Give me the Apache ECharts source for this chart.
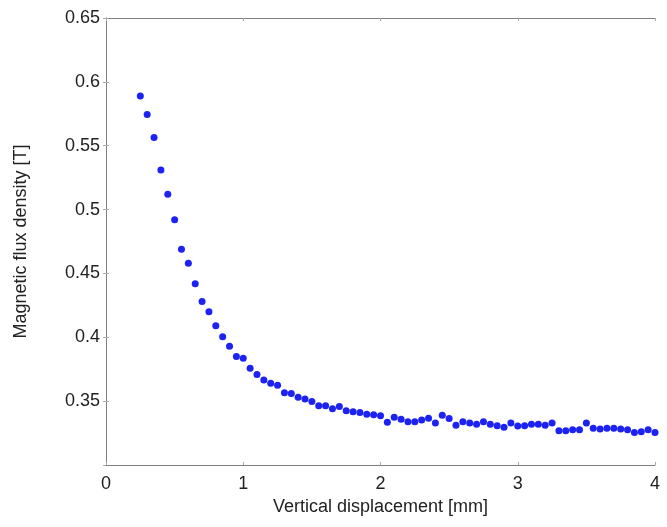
<!DOCTYPE html>
<html>
<head>
<meta charset="utf-8">
<script src="https://cdn.jsdelivr.net/npm/echarts@6/dist/echarts.min.js"></script>
<style>html,body{margin:0;padding:0;background:#fff}#c{width:667px;height:527px}</style>
</head>
<body>
<div id="c"></div>
<script>
var xStart = 0.25;
var xStep = 0.05;
var fluxDensity = [
  0.589, 0.5745, 0.5565, 0.531, 0.512, 0.492, 0.469, 0.458, 0.442, 0.428,
  0.420, 0.409, 0.4005, 0.393, 0.385, 0.3836, 0.3758, 0.3709, 0.3666, 0.364,
  0.3625, 0.3565, 0.356, 0.3531, 0.3516, 0.3498, 0.3463, 0.3463, 0.344, 0.3459,
  0.3424, 0.3416, 0.3412, 0.3398, 0.3393, 0.3385, 0.3334, 0.3373, 0.3359, 0.3338,
  0.3338, 0.3352, 0.3367, 0.3328, 0.339, 0.3365, 0.3312, 0.3338, 0.3328, 0.332,
  0.3338, 0.332, 0.3307, 0.3295, 0.3328, 0.3305, 0.3307, 0.332, 0.332, 0.3312,
  0.3328, 0.3268, 0.3268, 0.3276, 0.3276, 0.3328, 0.3287, 0.3281, 0.3287, 0.3287,
  0.3281, 0.3276, 0.3255, 0.326, 0.3276, 0.3255
];
var displacement = fluxDensity.map(function (_, i) { return +(xStart + xStep * i).toFixed(2); });
var xTicks = [0, 1, 2, 3, 4];
var yTicks = [0.3, 0.35, 0.4, 0.45, 0.5, 0.55, 0.6, 0.65];

var points = displacement.map(function (x, i) { return [x, fluxDensity[i]]; });
var font = 'Liberation Sans, Arial, sans-serif';
var axisCol = '#808080';

var chart = echarts.init(document.getElementById('c'), null, {renderer: 'canvas'});
chart.setOption({
  animation: false,
  backgroundColor: '#fff',
  grid: {left: 106, right: 12, top: 18, bottom: 62},
  xAxis: [{
    type: 'value', min: xTicks[0], max: xTicks[xTicks.length - 1], interval: 1,
    position: 'bottom',
    name: 'Vertical displacement [mm]', nameLocation: 'middle', nameGap: 33,
    nameTextStyle: {fontFamily: font, fontSize: 18, color: '#222'},
    axisLine: {show: true, lineStyle: {color: axisCol, width: 1}},
    axisTick: {show: true, inside: true, length: 3, lineStyle: {color: '#aaa'}},
    axisLabel: {fontFamily: font, fontSize: 18, color: '#222', margin: 10},
    splitLine: {show: false}
  }, {
    type: 'value', min: xTicks[0], max: xTicks[xTicks.length - 1], interval: 1,
    position: 'top',
    axisLine: {show: true, lineStyle: {color: axisCol, width: 1}},
    axisTick: {show: true, inside: true, length: 3, lineStyle: {color: '#aaa'}},
    axisLabel: {show: false},
    splitLine: {show: false}
  }],
  yAxis: [{
    type: 'value', min: yTicks[0], max: yTicks[yTicks.length - 1], interval: 0.05,
    position: 'left',
    name: 'Magnetic flux density [T]', nameLocation: 'middle', nameGap: 76, nameRotate: 90,
    nameTextStyle: {fontFamily: font, fontSize: 18, color: '#222'},
    axisLine: {show: true, lineStyle: {color: axisCol, width: 1}},
    axisTick: {show: true, inside: true, length: 3, lineStyle: {color: '#aaa'}},
    axisLabel: {fontFamily: font, fontSize: 18, color: '#222', margin: 6, showMinLabel: false},
    splitLine: {show: false}
  }, {
    type: 'value', min: yTicks[0], max: yTicks[yTicks.length - 1], interval: 0.05,
    position: 'right',
    axisLine: {show: true, lineStyle: {color: axisCol, width: 1}},
    axisTick: {show: true, inside: true, length: 3, lineStyle: {color: '#aaa'}},
    axisLabel: {show: false},
    splitLine: {show: false}
  }],
  series: [{
    type: 'scatter',
    xAxisIndex: 0, yAxisIndex: 0,
    data: points,
    symbol: 'circle',
    symbolSize: 7,
    itemStyle: {color: '#1c22f2', opacity: 1},
    clip: false
  }]
});
</script>
</body>
</html>
